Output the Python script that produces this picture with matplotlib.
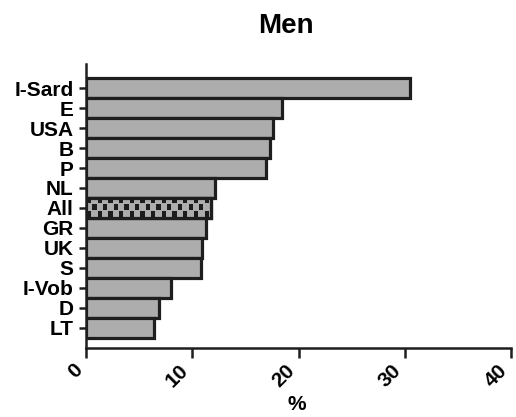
import numpy as np
import matplotlib.pyplot as plt
from matplotlib.colors import ListedColormap
from matplotlib.transforms import ScaledTranslation

plt.rcParams['font.family'] = ['Liberation Sans', 'DejaVu Sans']
plt.rcParams['font.weight'] = 'bold'

# prevalence by country, top to bottom
countries = ['I-Sard', 'E', 'USA', 'B', 'P', 'NL', 'All', 'GR', 'UK', 'S', 'I-Vob', 'D', 'LT']
values = [30.5, 18.4, 17.6, 17.3, 16.9, 12.1, 11.8, 11.3, 10.9, 10.8, 8.0, 6.9, 6.4]
xticks = [0, 10, 20, 30, 40]

GREY = '#adadad'
EDGE = '#1e1e1e'

fig = plt.figure(figsize=(5.16, 4.17), dpi=100)
ax = fig.add_axes([0.1667, 0.1655, 0.8236, 0.681])

ypos = np.arange(len(countries))[::-1]
bars = ax.barh(ypos, values, height=1.0, color=GREY, edgecolor=EDGE, linewidth=2.3, zorder=2)

# checkered fill for the pooled bar: dark squares with a thin grey margin
i_all = countries.index('All')
b = bars[i_all]
cw, ch = 0.5, 0.34
nx, ny = int(np.ceil(values[i_all] / cw)), 3
sub = 5
board = np.zeros((ny * sub, nx * sub))
for r in range(ny):
    for c in range(nx):
        if (r + c) % 2 == 0:
            board[r * sub + 1:(r + 1) * sub, c * sub + 1:(c + 1) * sub] = 1
y0 = ypos[i_all] - 0.5
im = ax.imshow(board, cmap=ListedColormap([GREY, '#1c1c1c']),
               extent=[0, nx * cw, y0 + ny * ch, y0], aspect='auto',
               interpolation='nearest', zorder=2.5)
im.set_clip_path(b)
ax.barh(ypos[i_all], values[i_all], height=1.0, color='none', edgecolor=EDGE, linewidth=2.3, zorder=3)

ax.set_xlim(0, 40)
ax.set_ylim(-1, 13.2)
ax.set_yticks(ypos)
ax.set_yticklabels(countries, fontsize=15, fontweight='bold')
ax.set_xticks(xticks)
ax.set_xticklabels([str(t) for t in xticks], rotation=45, ha='right', fontsize=15, fontweight='bold')
shift = ScaledTranslation(5 / 100, -2 / 100, fig.dpi_scale_trans)
for lab in ax.get_xticklabels():
    lab.set_transform(lab.get_transform() + shift)

for s in ['top', 'right']:
    ax.spines[s].set_visible(False)
for s in ['left', 'bottom']:
    ax.spines[s].set_linewidth(1.8)
    ax.spines[s].set_color(EDGE)
ax.tick_params(axis='y', length=5, width=1.8, color=EDGE, pad=4)
ax.tick_params(axis='x', length=7, width=1.8, color=EDGE, pad=2)

ax.set_xlabel('%', fontsize=15, fontweight='bold')
ax.xaxis.set_label_coords(0.496, -0.165)
ax.set_title('Men', fontsize=20, fontweight='bold', pad=22, x=0.47)

fig.savefig('out.png', dpi=100)
